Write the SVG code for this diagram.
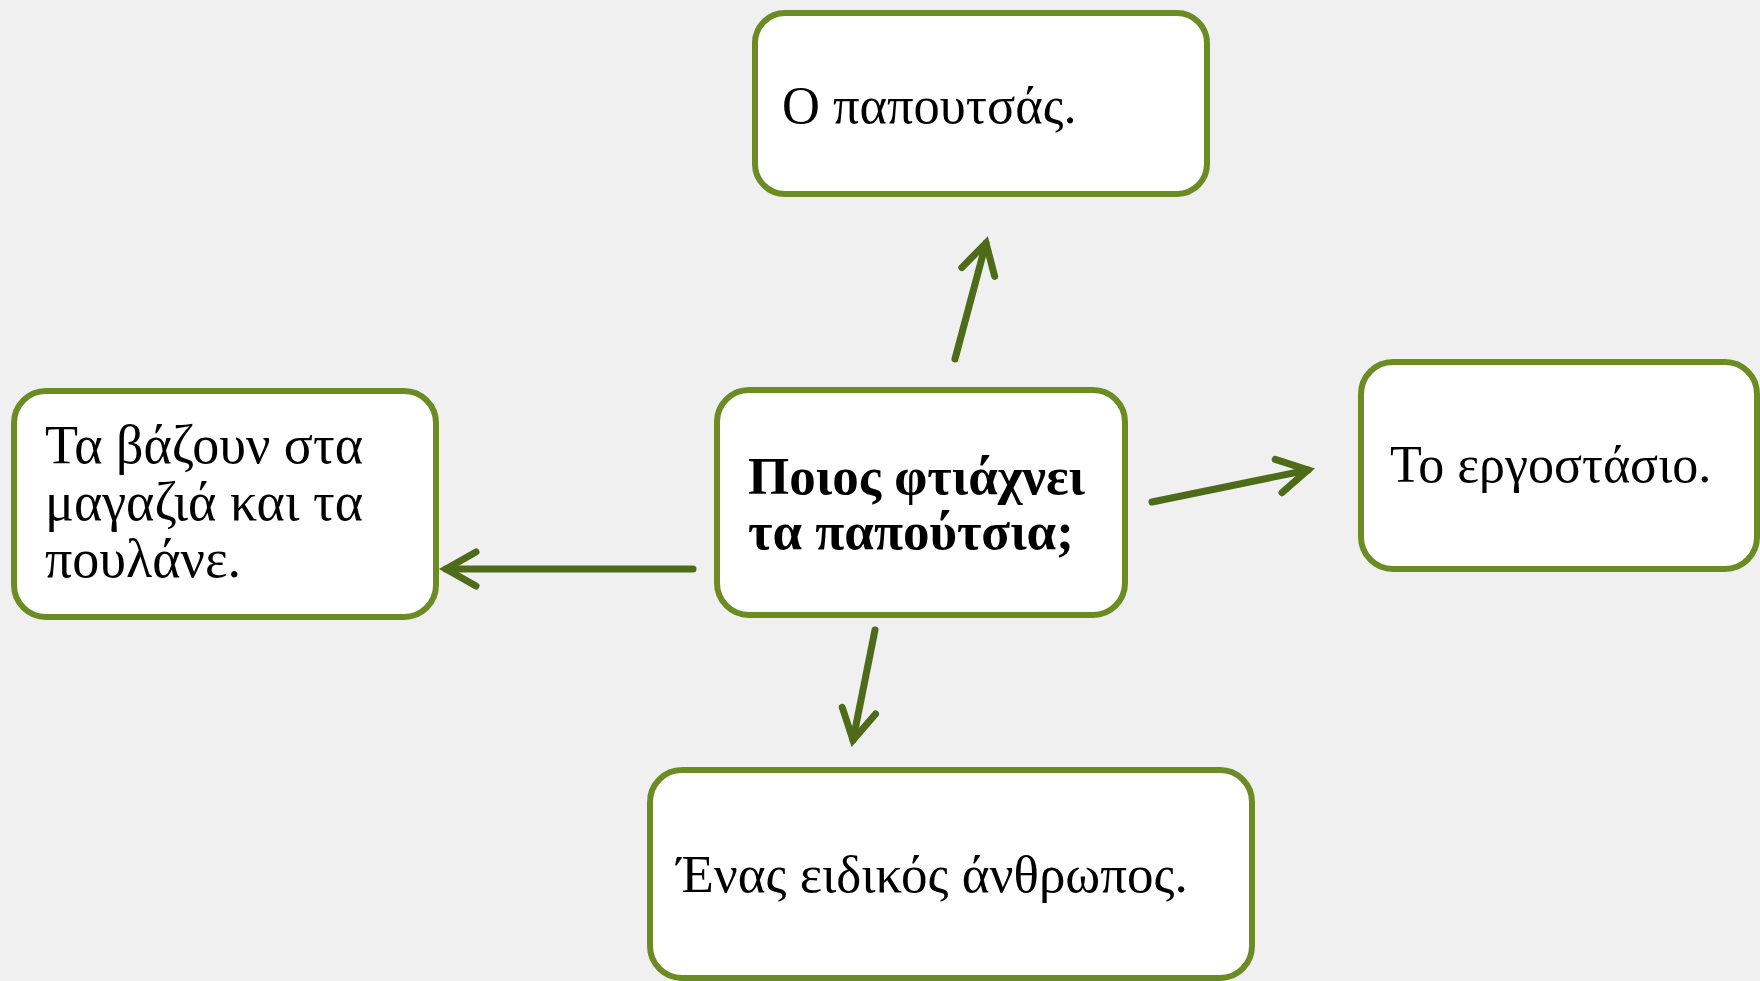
<svg xmlns="http://www.w3.org/2000/svg" width="1760" height="981" viewBox="0 0 1760 981">
<style>
.box{fill:#ffffff;stroke:#6a8c23;stroke-width:6}
.t{font-family:"Liberation Serif","Times New Roman",serif;font-size:53px;fill:#000}
.b{font-weight:bold}
.conn{stroke:#4d6b19;stroke-width:7;stroke-linecap:round;fill:none}
</style>
<defs>
<marker id="arr" markerUnits="userSpaceOnUse" viewBox="-40 -25 50 50" refX="0" refY="0" markerWidth="50" markerHeight="50" orient="auto">
<path d="M-30,-17 L0,0 L-30,17" fill="none" stroke="#4d6b19" stroke-width="7" stroke-linecap="round" stroke-linejoin="miter"/>
</marker>
</defs>
<rect width="1760" height="981" fill="#f0f0f0"/>
<g id="connectors">
<line class="conn" x1="955" y1="359" x2="986" y2="243" marker-end="url(#arr)"/>
<line class="conn" x1="693" y1="569" x2="446" y2="569" marker-end="url(#arr)"/>
<line class="conn" x1="1152" y1="502" x2="1308" y2="470" marker-end="url(#arr)"/>
<line class="conn" x1="875" y1="630" x2="853" y2="740" marker-end="url(#arr)"/>
</g>
<g id="top">
<rect class="box" x="755" y="13" width="452" height="181" rx="30"/>
<text class="t" x="782" y="123" style="font-size:52.5px">Ο παπουτσάς.</text>
</g>
<g id="center">
<rect class="box" x="717" y="390" width="408" height="225" rx="32"/>
<text class="t b" x="748" y="494">Ποιος φτιάχνει</text>
<text class="t b" x="748" y="549">τα παπούτσια;</text>
</g>
<g id="left">
<rect class="box" x="14" y="391" width="422" height="226" rx="32"/>
<text class="t" x="45" y="463" style="font-size:54px">Τα βάζουν στα</text>
<text class="t" x="45" y="520" style="font-size:54px">μαγαζιά και τα</text>
<text class="t" x="45" y="577" style="font-size:54px">πουλάνε.</text>
</g>
<g id="right">
<rect class="box" x="1361" y="362" width="396" height="207" rx="32"/>
<text class="t" x="1390" y="482" style="font-size:52px">Το εργοστάσιο.</text>
</g>
<g id="bottom">
<rect class="box" x="650" y="770" width="602" height="208" rx="32"/>
<text class="t" x="677" y="892">Ένας ειδικός άνθρωπος.</text>
</g>
</svg>
